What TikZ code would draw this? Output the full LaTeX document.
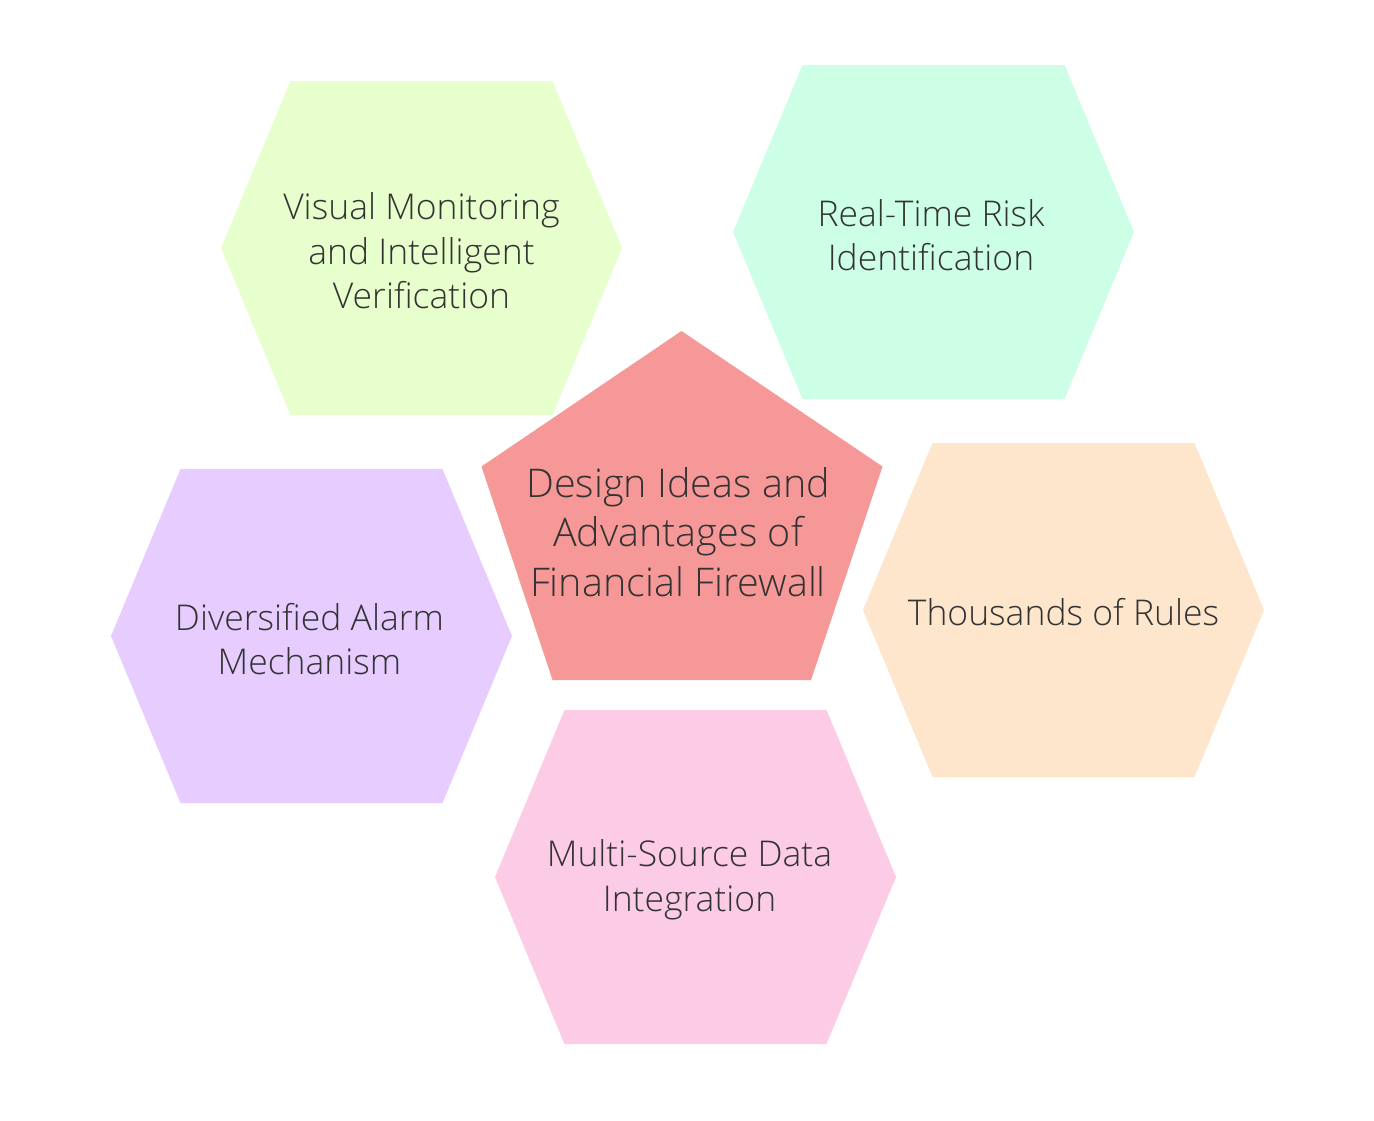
\documentclass[tikz,border=0pt]{standalone}
\usepackage{fontspec}
\setmainfont{Open Sans}[UprightFont={* Light}]
\definecolor{cgreen}{HTML}{E6FFCC}
\definecolor{cmint}{HTML}{CCFFE6}
\definecolor{cpeach}{HTML}{FDE6CC}
\definecolor{cpurple}{HTML}{E6CCFF}
\definecolor{cpink}{HTML}{FCCCE6}
\definecolor{cred}{HTML}{F69898}
\definecolor{ctext}{HTML}{333333}
\tikzset{
  lbl/.style={text=ctext, align=center, font=\fontsize{35.5}{44.5}\selectfont, inner sep=0pt},
  clbl/.style={text=ctext, align=center, font=\fontsize{39.5}{49.7}\selectfont, inner sep=0pt}
}
\newcommand{\hexat}[3]{% cx, cy, color
  \fill[#3] (#1-131,#2-167) -- (#1+131,#2-167) -- (#1+200.5,#2) -- (#1+131,#2+167) -- (#1-131,#2+167) -- (#1-200.5,#2) -- cycle;}
\begin{document}
\begin{tikzpicture}[x=1pt,y=-1pt]
\useasboundingbox (0,0) rectangle (1374,1120);
\fill[white] (0,0) rectangle (1374,1120);
\hexat{421.5}{248}{cgreen}
\hexat{933.5}{232}{cmint}
\hexat{1063.5}{610}{cpeach}
\hexat{311.5}{636}{cpurple}
\hexat{695.5}{877}{cpink}
\fill[cred] (681.5,331) -- (882.5,466.5) -- (811,680) -- (552.5,680) -- (481.5,466.5) -- cycle;
\node[lbl] (vis) at (421.5,251) {Visual Monitoring\\and Intelligent\\Verification};
\node[lbl] (rt) at (931,235) {Real-Time Risk\\Identification};
\node[lbl] (th) at (1063.5,612) {Thousands of Rules};
\node[lbl] (div) at (309.5,639) {Diversified Alarm\\Mechanism};
\node[lbl] (ms) at (689.5,880) {Multi-Source Data\\Integration};
\node[clbl] (ctr) at (678,532) {Design Ideas and\\Advantages of\\Financial Firewall};
\end{tikzpicture}
\end{document}
